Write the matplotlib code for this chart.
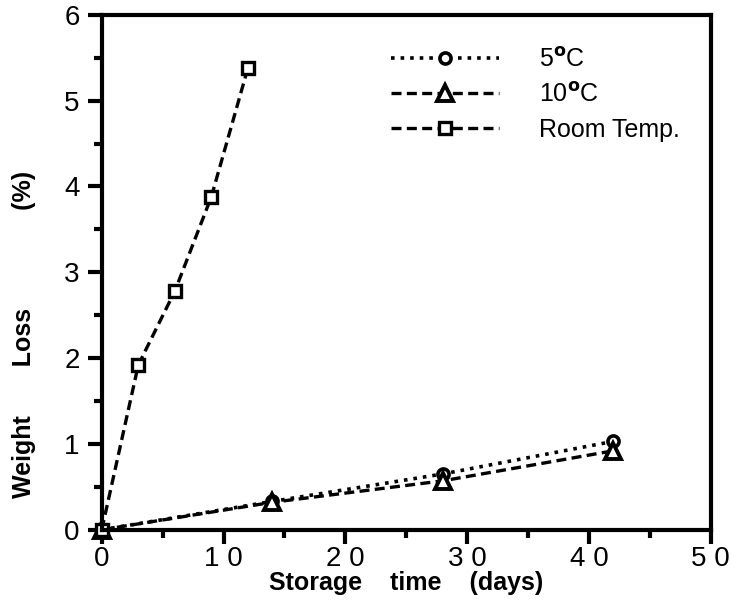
import numpy as np
import matplotlib.pyplot as plt

#----------
#Data
#----------
days_room = [0, 3, 6, 9, 12]
loss_room = [0, 1.92, 2.78, 3.88, 5.38]
days_cold = [0, 14, 28, 42]
loss_5c = [0, 0.33, 0.65, 1.03]
loss_10c = [0, 0.32, 0.57, 0.92]

plt.rcParams['font.family'] = ['Liberation Sans', 'DejaVu Sans']

fig = plt.figure(figsize=(7.32, 6.16), dpi=100)
ax = fig.add_axes([0.139, 0.140, 0.832, 0.836])

ax.plot(days_cold, loss_5c, ':', color='k', lw=2.6, marker='o', ms=8,
        mfc='white', mec='k', mew=2.6, label='5$^\\mathbf{o}$C', clip_on=False)
ax.plot(days_cold, loss_10c, '--', color='k', lw=2.4, dashes=(3, 1.6),
        marker='^', ms=11, mfc='white', mec='k', mew=2.8, label='10$^\\mathbf{o}$C',
        clip_on=False)
ax.plot(days_room, loss_room, '--', color='k', lw=2.4, dashes=(3, 1.6),
        marker='s', ms=8, mfc='white', mec='k', mew=2.4, label='Room Temp.',
        clip_on=False)

ax.set_xlim(0, 50)
ax.set_ylim(0, 6)
ax.set_xticks([0, 10, 20, 30, 40, 50])
ax.set_xticks(np.arange(5, 50, 10), minor=True)
ax.set_yticks(range(7))
ax.set_yticks(np.arange(0.5, 6, 1), minor=True)
ax.set_xticklabels(['0', '1 0', '2 0', '3 0', '4 0', '5 0'])
ax.tick_params(which='both', direction='out', width=3, top=False, right=False)
ax.tick_params(which='major', length=10, labelsize=20)
ax.tick_params(which='minor', length=6)
ax.tick_params(axis='x', pad=2)
ax.tick_params(axis='y', pad=6)
for s in ax.spines.values():
    s.set_linewidth(3)

ax.set_xlabel('Storage    time    (days)', fontsize=18, fontweight='heavy', labelpad=-1)
ax.set_ylabel('Weight       Loss              (%)', fontsize=18, fontweight='heavy')
ax.yaxis.set_label_coords(-0.108, 0.38)

ax.legend(loc='upper right', bbox_to_anchor=(0.986, 0.98), frameon=False,
          fontsize=18, handlelength=4.3, handletextpad=1.6, labelspacing=0.45)

fig.savefig('out.png', dpi=100)
